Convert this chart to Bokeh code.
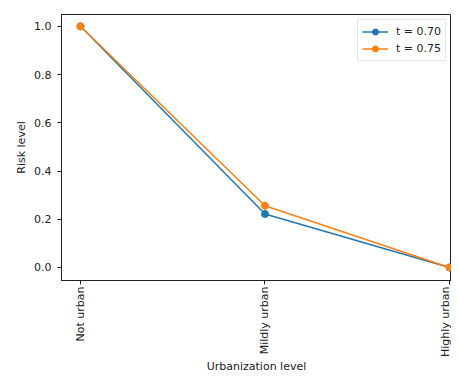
import math
from bokeh.plotting import figure
from bokeh.models import FixedTicker, Range1d, Legend, LegendItem
from bokeh.embed import file_html
from bokeh.resources import INLINE

categories = ["Not urban", "Mildly urban", "Highly urban"]
t070 = [1.0, 0.222, 0.0]
t075 = [1.0, 0.256, 0.0]
series_names = ["t = 0.70", "t = 0.75"]
y_ticks = [0.0, 0.2, 0.4, 0.6, 0.8, 1.0]

xs = list(range(len(categories)))

p = figure(width=451, height=376, output_backend="svg", toolbar_location=None,
           x_range=Range1d(-0.103, 2.011), y_range=Range1d(-0.054, 1.049),
           min_border_left=61, min_border_top=14, min_border_right=0, min_border_bottom=95)
p.xgrid.visible = False
p.ygrid.visible = False
p.outline_line_color = "#222222"
p.outline_line_width = 1

FONT = "DejaVu Sans"
FS = "11px"
for ax in (p.xaxis[0], p.yaxis[0]):
    ax.major_label_text_font = FONT
    ax.major_label_text_font_size = FS
    ax.major_label_text_color = "#222222"
    ax.axis_label_text_font = FONT
    ax.axis_label_text_font_size = FS
    ax.axis_label_text_font_style = "normal"
    ax.axis_label_text_color = "#222222"
    ax.minor_tick_line_color = None
    ax.major_tick_out = 4
    ax.major_tick_in = 0
    ax.axis_line_color = "#222222"
    ax.major_tick_line_color = "#222222"

p.xaxis.ticker = FixedTicker(ticks=xs)
p.xaxis.major_label_overrides = {i: c for i, c in enumerate(categories)}
p.xaxis.major_label_orientation = math.pi / 2
p.xaxis.major_label_standoff = 2
p.xaxis.axis_label = "Urbanization level"
p.xaxis.axis_label_standoff = 0

p.yaxis.ticker = FixedTicker(ticks=y_ticks)
p.yaxis.major_label_overrides = {v: f"{v:.1f}" for v in y_ticks}
p.yaxis.major_label_standoff = 6
p.yaxis.axis_label = "Risk level"
p.yaxis.axis_label_standoff = 3

colors = ["#1f77b4", "#ff7f0e"]
items = []
for name, ys, c in zip(series_names, [t070, t075], colors):
    l = p.line(xs, ys, line_color=c, line_width=1.5)
    s = p.scatter(xs, ys, size=7, fill_color=c, line_color=c)
    items.append(LegendItem(label=name, renderers=[l, s]))

legend = Legend(items=items, location="top_right",
                label_text_font=FONT, label_text_font_size=FS,
                label_text_color="#222222",
                glyph_width=26, glyph_height=15, label_height=15,
                label_standoff=8,
                spacing=2, padding=4, margin=5,
                border_line_color="#cccccc", background_fill_alpha=0.8)
p.add_layout(legend)

open("out.html", "w").write(file_html(p, INLINE))
